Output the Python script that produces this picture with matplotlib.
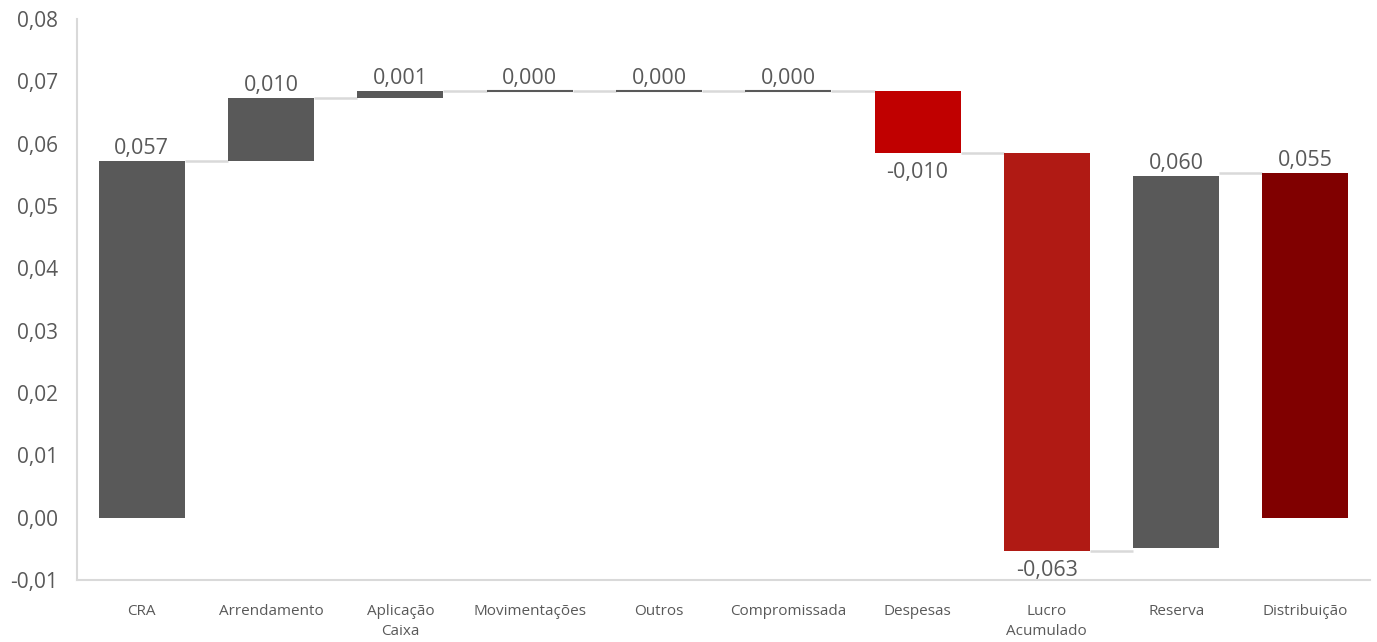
import matplotlib
matplotlib.use("Agg")
import matplotlib.pyplot as plt

plt.rcParams['font.family'] = ['Open Sans', 'DejaVu Sans']

categories = ["CRA", "Arrendamento", "Aplicação\nCaixa", "Movimentações", "Outros",
              "Compromissada", "Despesas", "Lucro\nAcumulado", "Reserva", "Distribuição"]
deltas = [0.0572, 0.0101, 0.0011, 0.0, 0.0, 0.0, -0.0099, -0.0638]
reserva_base = -0.0048
reserva_value = 0.0596
distribuicao_value = 0.0553
value_labels = ["0,057", "0,010", "0,001", "0,000", "0,000", "0,000", "-0,010", "-0,063", "0,060", "0,055"]
colors = ["#595959", "#595959", "#595959", "#595959", "#595959", "#595959",
          "#C00000", "#B01A14", "#595959", "#800000"]
yticks = [-0.01, 0.0, 0.01, 0.02, 0.03, 0.04, 0.05, 0.06, 0.07, 0.08]

# compute bottoms/heights
bottoms, heights = [], []
level = 0.0
for d in deltas:
    bottoms.append(level)
    heights.append(d)
    level += d
bottoms.append(reserva_base); heights.append(reserva_value)
bottoms.append(0.0); heights.append(distribuicao_value)

fig = plt.figure(figsize=(13.77, 6.42), dpi=100)
ax = fig.add_axes([0.056, 0.0966, 0.939, 0.8738])
w = 0.665
x = list(range(len(categories)))
txt = "#595959"

for i in x:
    b, h = bottoms[i], heights[i]
    if h == 0:
        ax.plot([i - w/2, i + w/2], [b, b], color="#595959", lw=1.5, zorder=3, solid_capstyle='butt')
    else:
        ax.bar(i, h, bottom=b, width=w, color=colors[i], zorder=3)
    top = max(b, b + h)
    bot = min(b, b + h)
    if h >= 0:
        ax.text(i, top + 0.0003, value_labels[i], ha='center', va='bottom', fontsize=15.5, color=txt)
    else:
        ax.text(i, bot - 0.0015, value_labels[i], ha='center', va='top', fontsize=15.5, color=txt)

# connectors
for i in range(len(categories) - 1):
    if i <= 7:
        lvl = bottoms[i] + heights[i]
    else:
        lvl = bottoms[9] + heights[9]
    ax.plot([i + w/2, i + 1 - w/2], [lvl, lvl], color="#D9D9D9", lw=1.8, zorder=2, solid_capstyle='butt')

ax.set_xlim(-0.5, len(categories) - 0.5)
ax.set_ylim(-0.01, 0.08)
ax.set_yticks(yticks)
ax.set_yticklabels([f"{v:.2f}".replace(".", ",") for v in yticks], fontsize=15, color=txt)
ax.set_xticks(x)
ax.set_xticklabels(categories, fontsize=11, color=txt, linespacing=1.5)
ax.tick_params(axis='both', length=0)
ax.tick_params(axis='x', pad=17)
ax.tick_params(axis='y', pad=14)
for s in ['top', 'right']:
    ax.spines[s].set_visible(False)
for s in ['left', 'bottom']:
    ax.spines[s].set_color("#D9D9D9")
    ax.spines[s].set_linewidth(1.5)

fig.savefig("out.png", dpi=100)
